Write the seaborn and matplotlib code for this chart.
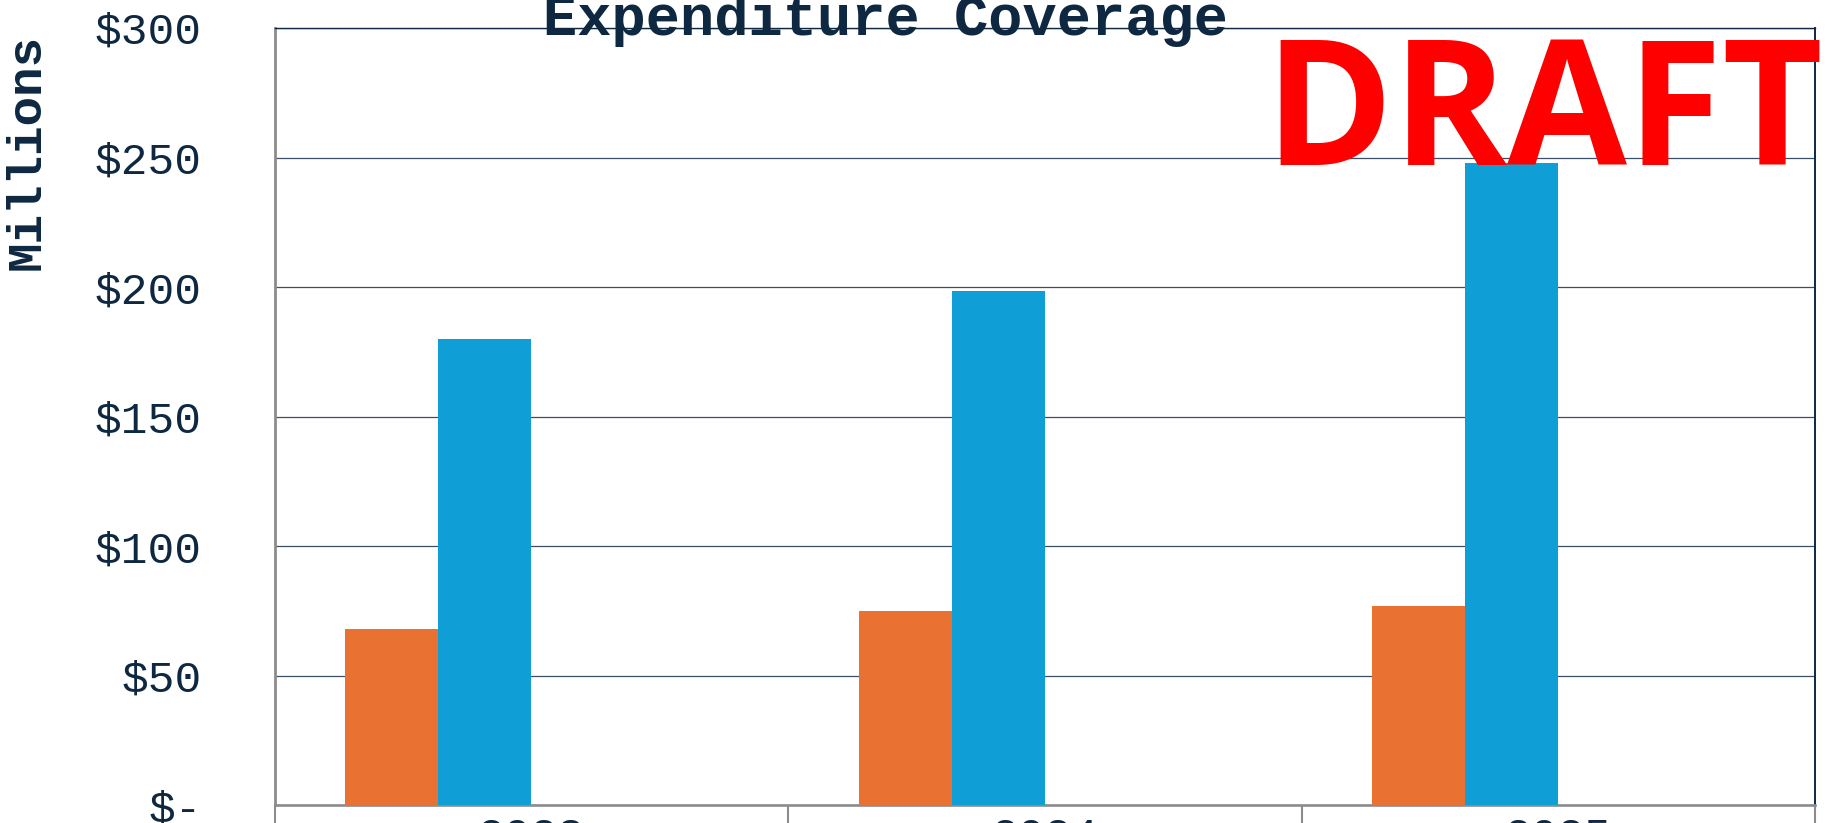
import matplotlib
matplotlib.use("Agg")
import matplotlib.pyplot as plt
from matplotlib.ticker import FixedLocator
import pandas as pd
import seaborn as sns

# Chart data (millions of dollars)
years = ["2023", "2024", "2025"]
series_names = ["Revenue", "Expenditure", "Reserve Draw", "Other"]
revenue = [68, 75, 77]
expenditure = [180, 198.5, 248]
reserve_draw = [0, 0, 0]
other = [0, 0, 0]
series_colors = ["#E97132", "#0F9ED5", "#196B24", "#156082"]
y_ticks = [0, 50, 100, 150, 200, 250, 300]
y_tick_labels = ["$-", "$50", "$100", "$150", "$200", "$250", "$300"]

NAVY = "#0E2841"
GRID = "#3A4F66"
GRAY = "#8C8C8C"
MONO = "Liberation Mono"

rows = []
for name, vals in zip(series_names, [revenue, expenditure, reserve_draw, other]):
    for yr, v in zip(years, vals):
        rows.append({"year": yr, "series": name, "value": v})
df = pd.DataFrame(rows)

sns.set_theme(style="white")
plt.rcParams["font.family"] = [MONO, "DejaVu Sans"]

fig = plt.figure(figsize=(18.33, 8.23), dpi=100)
ax = fig.add_axes([0.1499, 0.0213, 0.8403, 0.9447])

sns.barplot(
    data=df, x="year", y="value", hue="series",
    order=years, hue_order=series_names,
    palette=dict(zip(series_names, series_colors)),
    width=0.726, dodge=True, saturation=1, linewidth=0,
    legend=False, ax=ax, zorder=3,
)

ax.set_xlim(-0.5, len(years) - 0.5)
ax.set_ylim(0, 300)
ax.set_xlabel("")
ax.set_ylabel("")

# y axis
ax.set_yticks(y_ticks)
ax.set_yticklabels(y_tick_labels, fontsize=32, color=NAVY, family=MONO)
ax.tick_params(axis="y", length=0, pad=52.5)
ax.yaxis.grid(True, color=GRID, linewidth=0.9)
ax.set_axisbelow(True)

# x axis: labels at category centres, tick marks between categories
ax.set_xticks(range(len(years)))
ax.set_xticklabels(years, fontsize=32, color=NAVY, family=MONO)
ax.tick_params(axis="x", which="major", length=0, pad=8.5)
ax.xaxis.set_minor_locator(FixedLocator([i - 0.5 for i in range(len(years) + 1)]))
ax.tick_params(axis="x", which="minor", length=14, width=1.5, color=GRAY,
               direction="out", bottom=True)

for side, col, lw in [("left", GRAY, 2.0), ("bottom", GRAY, 1.9),
                      ("top", NAVY, 1.0), ("right", NAVY, 1.4)]:
    ax.spines[side].set_visible(True)
    ax.spines[side].set_color(col)
    ax.spines[side].set_linewidth(lw)

# title sits under the frame lines
ax.text(886 / 1833, 1 - 35 / 823, "Expenditure Coverage", transform=fig.transFigure,
        ha="center", va="baseline", fontsize=41, fontweight="bold",
        color=NAVY, family=MONO, zorder=1)

fig.text(27 / 1833, 1 - 152 / 823, "Millions", rotation=90, ha="center", va="center",
         fontsize=35.5, fontweight="bold", color=NAVY, family=MONO)

fig.text(1264 / 1833, 1 - 165 / 823, "DRAFT", ha="left", va="baseline",
         fontsize=125, fontweight="bold", color="#FF0000",
         family=["Open Sans", "DejaVu Sans"], zorder=10)

fig.savefig("out.png", dpi=100)
